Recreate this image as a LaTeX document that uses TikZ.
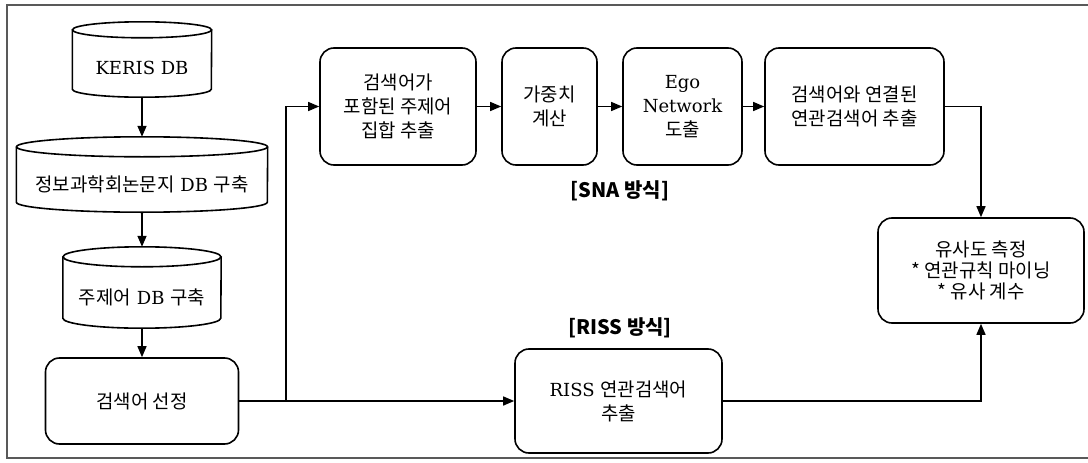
\documentclass[tikz,border=0pt]{standalone}
\usepackage{fontspec}
\setmainfont{DejaVu Serif}
\newfontfamily\kr[Scale=1.05]{Noto Sans CJK KR}
\newcommand\hk[1]{{\kr #1}}
\usetikzlibrary{arrows.meta}
\newcommand\drawcyl[3]{%
  \draw[line width=1.6pt] ([yshift=#3]#1.north west) -- ([yshift=#3]#1.south west)
    arc[start angle=180,end angle=360,x radius=#2,y radius=#3] -- ([yshift=#3]#1.north east);
  \draw[line width=1.6pt] ([yshift=#3]#1.north) ellipse[x radius=#2, y radius=#3];
}
\begin{document}
\begin{tikzpicture}[x=1pt,y=-1pt,
  box/.style={draw, line width=1.6pt, rounded corners=14pt, align=center, inner sep=0pt,
    font=\fontsize{18}{24}\selectfont},
  cylbody/.style={inner sep=0pt, align=center, font=\fontsize{18}{24}\selectfont},
  conn/.style={line width=1.4pt},
  arr/.style={conn, -{Triangle[length=11pt,width=9pt]}},
  lbl/.style={font=\kr\bfseries\fontsize{19}{22}\selectfont}]
\useasboundingbox (0,0) rectangle (1088,463);
\fill[white] (0,0) rectangle (1088,463);
\draw[gray!70!black, line width=1.5pt] (1088,5) -- (7,5) -- (7,458) -- (1088,458);

% left column
\node[cylbody, minimum width=139pt, minimum height=59pt] (keris) at (142,67.5) {KERIS DB};
\drawcyl{keris}{69.5pt}{8pt}
\node[cylbody, minimum width=251pt, minimum height=55pt] (jungbo) at (142,184.5) {\hk{정보과학회논문지} DB \hk{구축}};
\drawcyl{jungbo}{125.5pt}{10pt}
\node[cylbody, minimum width=158pt, minimum height=61pt] (topic) at (142,297.5) {\hk{주제어} DB \hk{구축}};
\drawcyl{topic}{79pt}{10pt}
\node[box, minimum width=193pt, minimum height=86pt] (sel) at (142,401) {\hk{검색어 선정}};

% SNA row
\node[box, minimum width=156pt, minimum height=117pt] (s1) at (398,106.5) {\hk{검색어가}\\\hk{포함된 주제어}\\\hk{집합 추출}};
\node[box, minimum width=95pt, minimum height=117pt] (s2) at (549.5,106.5) {\hk{가중치}\\\hk{계산}};
\node[box, minimum width=119pt, minimum height=117pt] (s3) at (682.5,106.5) {Ego\\Network\\\hk{도출}};
\node[box, minimum width=179pt, minimum height=117pt] (s4) at (854.5,106.5) {\hk{검색어와 연결된}\\\hk{연관검색어 추출}};
\node[lbl] (snalbl) at (620,191) {[SNA 방식]};

% result
\node[box, minimum width=206pt, minimum height=105pt, font=\fontsize{18}{21}\selectfont] (res) at (981,270.5) {\hk{유사도 측정}\\\hk{* 연관규칙 마이닝}\\\hk{* 유사 계수}};

% RISS row
\node[lbl] (risslbl) at (620,328) {[RISS 방식]};
\node[box, minimum width=207pt, minimum height=104pt] (riss) at (618.5,401) {RISS \hk{연관검색어}\\\hk{추출}};

% connectors
\draw[arr] (keris.south) -- ([yshift=20pt]jungbo.north);
\draw[arr] (jungbo.south) -- ([yshift=20pt]topic.north);
\draw[arr] (topic.south) -- (sel.north);
\coordinate (j) at (286,401);
\draw[conn] (sel.east) -- (j);
\draw[arr] (j) |- (s1.west);
\draw[arr] (j) -- (riss.west);
\draw[arr] (s1.east) -- (s2.west);
\draw[arr] (s2.east) -- (s3.west);
\draw[arr] (s3.east) -- (s4.west);
\draw[arr] (s4.east) -| (res.north);
\draw[arr] (riss.east) -| (res.south);
\end{tikzpicture}
\end{document}
